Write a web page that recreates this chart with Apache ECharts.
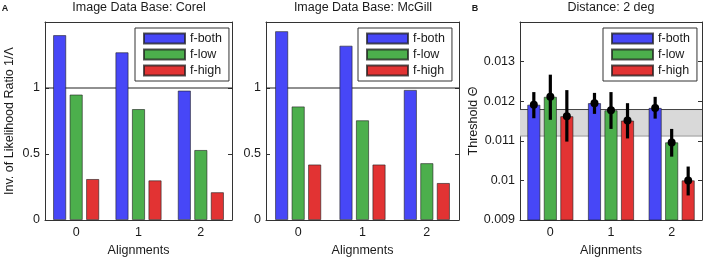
<!DOCTYPE html>
<html>
<head>
<meta charset="utf-8">
<script src="https://cdn.jsdelivr.net/npm/echarts@6/dist/echarts.min.js"></script>
<style>
  html, body { margin: 0; padding: 0; background: #fff; }
  #chart { width: 708px; height: 257px; }
</style>
</head>
<body>
<div id="chart"></div>
<script>
// alignments on the x axis
var categories = ['0', '1', '2'];
var seriesNames = ['f-both', 'f-low', 'f-high'];

// A: inverse likelihood ratio, Corel and McGill image sets
var corelBoth = [1.40, 1.27, 0.98];
var corelLow = [0.95, 0.84, 0.53];
var corelHigh = [0.31, 0.30, 0.21];
var mcgillBoth = [1.43, 1.32, 0.985];
var mcgillLow = [0.86, 0.755, 0.43];
var mcgillHigh = [0.42, 0.42, 0.28];
var ratioTicks = [0, 0.5, 1, 1.5];
var refRatio = [1];

// B: threshold at distance 2 deg, with error bars
var threshBoth = [0.01191, 0.01195, 0.01183];
var threshLow = [0.01211, 0.01177, 0.01096];
var threshHigh = [0.01162, 0.01151, 0.01000];
var errBothLo = [0.01157, 0.01168, 0.01156];
var errBothHi = [0.01223, 0.01221, 0.01211];
var errLowLo = [0.01153, 0.01130, 0.01060];
var errLowHi = [0.01267, 0.01223, 0.01130];
var errHighLo = [0.01098, 0.01106, 0.00962];
var errHighHi = [0.01228, 0.01195, 0.01035];
var threshTicks = [0.009, 0.010, 0.011, 0.012, 0.013, 0.014];
var bandRange = [0.01112, 0.01179];

var colors = ['#4747f7', '#4caf4c', '#e23333'];
var FONT = '"Liberation Sans", Arial, Helvetica, sans-serif';
var INK = '#1a1a1a';
var barW = 13;
var barGapRatio = 0.27;

var chart = echarts.init(document.getElementById('chart'));

var grids = [
    { left: 45, top: 22, width: 187, height: 198, outerBoundsMode: 'none', containLabel: false },
    { left: 266, top: 22, width: 193, height: 198, outerBoundsMode: 'none', containLabel: false },
    { left: 520, top: 22, width: 182, height: 198, outerBoundsMode: 'none', containLabel: false }
];

function xAxisFor(idx, top) {
    return {
        type: 'category',
        gridIndex: idx,
        position: top ? 'top' : 'bottom',
        data: categories,
        name: top ? '' : 'Alignments',
        nameLocation: 'middle',
        nameGap: 21,
        nameTextStyle: { color: INK, fontSize: 12.5, fontFamily: FONT },
        axisLine: { onZero: false, lineStyle: { color: '#333', width: 1 } },
        axisTick: { inside: true, alignWithLabel: true, length: 4, lineStyle: { color: '#333' } },
        axisLabel: { show: !top, color: INK, fontSize: 12.5, fontFamily: FONT, margin: 6 },
        splitLine: { show: false }
    };
}

function yAxisFor(idx, right, ticks, name, nameGap) {
    var step = ticks[1] - ticks[0];
    return {
        type: 'value',
        gridIndex: idx,
        position: right ? 'right' : 'left',
        min: ticks[0],
        max: ticks[ticks.length - 1],
        interval: step,
        name: right ? '' : name,
        nameLocation: 'middle',
        nameGap: nameGap,
        nameTextStyle: { color: INK, fontSize: 12.5, fontFamily: FONT },
        axisLine: { show: true, onZero: false, lineStyle: { color: '#333', width: 1 } },
        axisTick: { show: true, inside: true, length: 4, lineStyle: { color: '#333' } },
        axisLabel: {
            show: !right,
            showMaxLabel: false,
            color: INK, fontSize: 12.5, fontFamily: FONT, margin: 5,
            formatter: function (v) { return String(+v.toFixed(4)); }
        },
        splitLine: { show: false }
    };
}

var xAxes = [], yAxes = [];
for (var g = 0; g < 3; g++) xAxes.push(xAxisFor(g, false));
for (var g2 = 0; g2 < 3; g2++) xAxes.push(xAxisFor(g2, true));
yAxes.push(yAxisFor(0, false, ratioTicks, 'Inv. of Likelihood Ratio 1/Λ', 29));
yAxes.push(yAxisFor(1, false, ratioTicks, '', 0));
yAxes.push(yAxisFor(2, false, threshTicks, 'Threshold Θ', 37));
yAxes.push(yAxisFor(0, true, ratioTicks, '', 0));
yAxes.push(yAxisFor(1, true, ratioTicks, '', 0));
yAxes.push(yAxisFor(2, true, threshTicks, '', 0));

function barSeries(name, k, data, axisIdx) {
    return {
        type: 'bar',
        name: name,
        xAxisIndex: axisIdx,
        yAxisIndex: axisIdx,
        data: data,
        barWidth: barW,
        barGap: (barGapRatio * 100) + '%',
        z: 2,
        itemStyle: { color: colors[k], borderColor: 'rgba(30,30,30,0.75)', borderWidth: 0.8 }
    };
}

// full-width horizontal reference line, drawn under the bars
function refLineSeries(axisIdx, values, stroke) {
    return {
        type: 'custom',
        name: 'ref',
        xAxisIndex: axisIdx,
        yAxisIndex: axisIdx,
        z: 1,
        silent: true,
        encode: { y: 0 },
        data: values.map(function (v) { return [v]; }),
        renderItem: function (params, api) {
            var cs = params.coordSys;
            var y = api.coord([0, api.value(0)])[1];
            return {
                type: 'line',
                shape: { x1: cs.x, y1: y, x2: cs.x + cs.width, y2: y },
                style: { stroke: stroke, lineWidth: 1.2 }
            };
        }
    };
}

// grey band with its two edge lines
function bandSeries(axisIdx, range) {
    return {
        type: 'custom',
        name: 'band',
        xAxisIndex: axisIdx,
        yAxisIndex: axisIdx,
        z: 1,
        silent: true,
        encode: { y: [0, 1] },
        data: [[range[0], range[1]]],
        renderItem: function (params, api) {
            var cs = params.coordSys;
            var yLo = api.coord([0, api.value(0)])[1];
            var yHi = api.coord([0, api.value(1)])[1];
            return {
                type: 'group',
                children: [
                    { type: 'rect', shape: { x: cs.x, y: yHi, width: cs.width, height: yLo - yHi },
                      style: { fill: '#d9d9d9' } },
                    { type: 'line', shape: { x1: cs.x, y1: yHi, x2: cs.x + cs.width, y2: yHi },
                      style: { stroke: '#444', lineWidth: 1 } },
                    { type: 'line', shape: { x1: cs.x, y1: yLo, x2: cs.x + cs.width, y2: yLo },
                      style: { stroke: '#9a9a9a', lineWidth: 1 } }
                ]
            };
        }
    };
}

function errSeries(k, lo, hi, mean) {
    var rows = [];
    for (var i = 0; i < categories.length; i++) rows.push([i, lo[i], hi[i], mean[i]]);
    var offset = (k - 1) * barW * (1 + barGapRatio);
    return {
        type: 'custom',
        name: 'err-' + k,
        xAxisIndex: 2,
        yAxisIndex: 2,
        z: 10,
        silent: true,
        encode: { x: 0, y: [1, 2] },
        data: rows,
        renderItem: function (params, api) {
            var p0 = api.coord([api.value(0), api.value(1)]);
            var p1 = api.coord([api.value(0), api.value(2)]);
            var pm = api.coord([api.value(0), api.value(3)]);
            var x = p0[0] + offset;
            return {
                type: 'group',
                children: [
                    { type: 'line', shape: { x1: x, y1: p0[1], x2: x, y2: p1[1] },
                      style: { stroke: '#000', lineWidth: 3.2 } },
                    { type: 'circle', shape: { cx: x, cy: pm[1], r: 4 },
                      style: { fill: '#000' } }
                ]
            };
        }
    };
}

var series = [];
series.push(refLineSeries(0, refRatio, '#222'));
series.push(refLineSeries(1, refRatio, '#222'));
series.push(bandSeries(2, bandRange));

var panelA = [[corelBoth, corelLow, corelHigh], [mcgillBoth, mcgillLow, mcgillHigh]];
panelA.forEach(function (sets, p) {
    sets.forEach(function (d, k) {
        series.push(barSeries(seriesNames[k], k, d, p));
    });
});
[threshBoth, threshLow, threshHigh].forEach(function (d, k) {
    series.push(barSeries(seriesNames[k], k, d, 2));
});
series.push(errSeries(0, errBothLo, errBothHi, threshBoth));
series.push(errSeries(1, errLowLo, errLowHi, threshLow));
series.push(errSeries(2, errHighLo, errHighHi, threshHigh));

function legendAt(left) {
    return {
        data: seriesNames,
        orient: 'vertical',
        left: left,
        top: 28,
        itemWidth: 41,
        itemHeight: 10,
        itemGap: 3,
        padding: [4, 7, 4, 8],
        backgroundColor: '#fff',
        borderColor: '#333',
        borderWidth: 1,
        borderRadius: 0,
        icon: 'rect',
        selectedMode: false,
        z: 20,
        textStyle: { color: INK, fontSize: 12.5, fontFamily: FONT }
    };
}

function label(text, x, y, opts) {
    return {
        type: 'text', x: x, y: y, silent: true,
        style: Object.assign({
            text: text, fill: INK, font: '12.5px ' + FONT,
            textAlign: 'center', textVerticalAlign: 'middle'
        }, opts || {})
    };
}

chart.setOption({
    animation: false,
    backgroundColor: '#fff',
    color: colors,
    grid: grids,
    xAxis: xAxes,
    yAxis: yAxes,
    legend: [legendAt(135), legendAt(358), legendAt(603)],
    graphic: [
        label('Image Data Base: Corel', 139, 8),
        label('Image Data Base: McGill', 363, 8),
        label('Distance: 2 deg', 611, 8),
        label('A', 5, 9, { font: 'bold 9px ' + FONT }),
        label('B', 475, 9, { font: 'bold 9px ' + FONT })
    ],
    series: series
});
</script>
</body>
</html>
